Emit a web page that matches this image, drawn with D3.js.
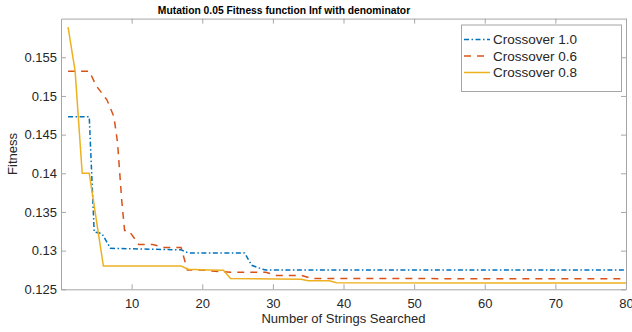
<!DOCTYPE html>
<html lang="en">
<head>
<meta charset="UTF-8">
<script src="https://d3js.org/d3.v7.min.js"></script>
<style>
  body { margin: 0; background: #fff; }
  svg { display: block; font-family: "Liberation Sans", Arial, sans-serif; }
</style>
</head>
<body>
<div id="chart"></div>
<script>
// data: [strings searched, fitness]
const cross10 = [[1,0.1473],[4,0.1473],[4.7,0.1324],[5.8,0.1322],[7,0.1303],[17,0.1301],[18,0.1297],[26,0.1297],[27,0.1281],[28.5,0.1276],[29,0.1275],[80,0.1275]];
const cross06 = [[1,0.1532],[4,0.1532],[5,0.1513],[6.5,0.1495],[7.5,0.1473],[8,0.144],[8.6,0.1365],[9,0.1326],[9.6,0.1326],[11,0.1308],[13,0.1308],[14.5,0.1304],[17,0.1304],[17.9,0.1275],[20,0.1275],[21,0.1274],[24,0.1272],[29,0.1272],[30.5,0.1268],[34,0.1268],[35.5,0.1264],[80,0.12635]];
const cross08 = [[1,0.1589],[2,0.1532],[3,0.140],[4,0.140],[6,0.128],[17,0.128],[18,0.1276],[21,0.1275],[23,0.12745],[24,0.1264],[34,0.1263],[35,0.1261],[38,0.1261],[39,0.12585],[80,0.1258]];

const xTicks = [10, 20, 30, 40, 50, 60, 70, 80];
const yTicks = [0.125, 0.13, 0.135, 0.14, 0.145, 0.15, 0.155];

const series = [
  { name: "Crossover 1.0", data: cross10, color: "#0072BD", dash: "5,2.5,1.5,2.5" },
  { name: "Crossover 0.6", data: cross06, color: "#D95319", dash: "7,6" },
  { name: "Crossover 0.8", data: cross08, color: "#EDB120", dash: null }
];

const W = 632, H = 332;
const plotLeft = 61, plotRight = 626, plotTop = 18.6, plotBottom = 289.3;
const axisColor = "#a6a6a6", textColor = "#262626";

const svg = d3.select("#chart").append("svg")
  .attr("width", W).attr("height", H);

const x = d3.scaleLinear().domain([0, 80]).range([plotLeft, plotRight]);
const y = d3.scaleLinear().domain([0.125, 0.16]).range([plotBottom, plotTop]);

// axes box with inward ticks
const gx = svg.append("g").attr("transform", `translate(0,${plotBottom})`)
  .call(d3.axisBottom(x).tickValues(xTicks).tickSizeInner(-5).tickSizeOuter(0).tickPadding(9).tickFormat(d3.format("d")));
const gxTop = svg.append("g").attr("transform", `translate(0,${plotTop})`)
  .call(d3.axisTop(x).tickValues(xTicks).tickSizeInner(-5).tickSizeOuter(0).tickFormat(""));
const gy = svg.append("g").attr("transform", `translate(${plotLeft},0)`)
  .call(d3.axisLeft(y).tickValues(yTicks).tickSizeInner(-5).tickSizeOuter(0).tickPadding(4).tickFormat(d => String(+d.toFixed(3))));
const gyRight = svg.append("g").attr("transform", `translate(${plotRight},0)`)
  .call(d3.axisRight(y).tickValues(yTicks).tickSizeInner(-5).tickSizeOuter(0).tickFormat(""));

[gx, gxTop, gy, gyRight].forEach(g => {
  g.selectAll("path, line").attr("stroke", axisColor);
  g.selectAll("text").attr("fill", textColor).attr("font-size", 13)
    .attr("font-family", "'Liberation Sans', Arial, sans-serif");
});

// the lines
const line = d3.line().x(d => x(d[0])).y(d => y(d[1]));
series.forEach(s => {
  svg.append("path")
    .datum(s.data)
    .attr("d", line)
    .attr("fill", "none")
    .attr("stroke", s.color)
    .attr("stroke-width", 1.5)
    .attr("stroke-dasharray", s.dash);
});

// title and labels
svg.append("text")
  .attr("x", 284).attr("y", 14)
  .attr("text-anchor", "middle")
  .attr("font-size", 10.3).attr("font-weight", "bold")
  .attr("fill", "#000")
  .text("Mutation 0.05 Fitness function Inf with denominator");

svg.append("text")
  .attr("x", (plotLeft + plotRight) / 2).attr("y", 323)
  .attr("text-anchor", "middle")
  .attr("font-size", 13).attr("fill", textColor)
  .text("Number of Strings Searched");

svg.append("text")
  .attr("transform", `translate(17,154) rotate(-90)`)
  .attr("text-anchor", "middle")
  .attr("font-size", 13).attr("fill", textColor)
  .text("Fitness");

// legend
const legend = svg.append("g");
legend.append("rect")
  .attr("x", 461.5).attr("y", 25).attr("width", 160).attr("height", 66.5)
  .attr("fill", "#fff").attr("stroke", axisColor).attr("stroke-width", 1);
series.forEach((s, i) => {
  const ly = 39.5 + i * 16.5;
  legend.append("line")
    .attr("x1", 464).attr("x2", 490).attr("y1", ly).attr("y2", ly)
    .attr("stroke", s.color).attr("stroke-width", 1.5)
    .attr("stroke-dasharray", s.dash);
  legend.append("text")
    .attr("x", 493).attr("y", ly + 4.5)
    .attr("font-size", 13.5).attr("fill", textColor)
    .text(s.name);
});
</script>
</body>
</html>
